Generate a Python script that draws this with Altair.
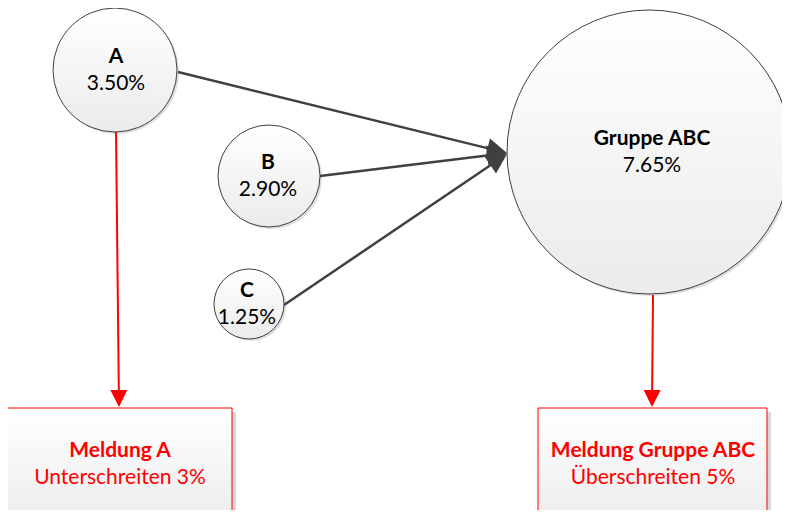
import altair as alt
import pandas as pd
import numpy as np

# ---- nodes (circles) ----
node_names = ["A", "B", "C", "Gruppe ABC"]
node_shares = ["3.50%", "2.90%", "1.25%", "7.65%"]
node_cx = [115, 269, 249, 649]
node_cy = [70, 176, 304, 152]
node_r = [62, 51, 35, 142]
label_x = [116, 268, 247, 652]

# ---- grey edges (members -> group) ----
edge_x1 = [178, 320, 284]
edge_y1 = [72, 176, 305]
edge_x2 = [507, 507, 507]
edge_y2 = [153, 153, 154]

# ---- alerts (red) ----
alert_titles = ["Meldung A", "Meldung Gruppe ABC"]
alert_texts = ["Unterschreiten 3%", "Überschreiten 5%"]
alert_x1 = [7, 538]
alert_x2 = [232, 767]
alert_y1 = [408, 408]
alert_y2 = [530, 530]
alert_cx = [120, 653]
alert_from_x = [116, 653]
alert_from_y = [131, 295]
alert_to_x = [119, 652]
alert_to_y = [407, 407]

W, H = 774, 502
xs = alt.Scale(domain=[8, 8 + W], nice=False, zero=False)
ys = alt.Scale(domain=[8, 8 + H], nice=False, zero=False, reverse=True)


def X(f):
    return alt.X(f, type="quantitative", scale=xs, axis=None)


def Y(f):
    return alt.Y(f, type="quantitative", scale=ys, axis=None)


FONT = "Lato"
FS = 21
ARROW = "M0,0L-1,-0.5L-1,0.5Z"

nodes = pd.DataFrame({
    "name": node_names, "share": node_shares,
    "cx": node_cx, "cy": node_cy, "r": node_r, "lx": label_x,
})
nodes["size"] = (2 * nodes["r"]) ** 2
nodes["sx"] = nodes["cx"] + 2
nodes["sy"] = nodes["cy"] + 2
nodes["ty"] = nodes["cy"] - 13
nodes["vy"] = nodes["cy"] + 14


def arrows(x1, y1, x2, y2, head):
    d = pd.DataFrame({"x1": x1, "y1": y1, "x2": x2, "y2": y2})
    dx = d["x2"] - d["x1"]
    dy = d["y2"] - d["y1"]
    ln = np.sqrt(dx ** 2 + dy ** 2)
    d["angle"] = np.degrees(np.arctan2(dy, dx)) % 360
    d["ex"] = d["x2"] - dx / ln * head * 0.6
    d["ey"] = d["y2"] - dy / ln * head * 0.6
    d["size"] = 4 * head ** 2
    return d


grey = arrows(edge_x1, edge_y1, edge_x2, edge_y2, 20)
red = arrows(alert_from_x, alert_from_y, alert_to_x, alert_to_y, 17)

alerts = pd.DataFrame({
    "title": alert_titles, "text": alert_texts,
    "x1": alert_x1, "x2": alert_x2, "y1": alert_y1, "y2": alert_y2,
    "cx": alert_cx,
})
alerts["sx1"] = alerts["x1"] + 4
alerts["sx2"] = alerts["x2"] + 4
alerts["sy1"] = alerts["y1"] + 4
alerts["sy2"] = alerts["y2"] + 4
alerts["ty"] = 451
alerts["vy"] = 478

grad = alt.Gradient(
    gradient="linear",
    stops=[alt.GradientStop(color="#ffffff", offset=0),
           alt.GradientStop(color="#ebebeb", offset=1)],
    x1=0, x2=0, y1=0, y2=1,
)

circle_shadow = alt.Chart(nodes).mark_point(
    shape="circle", filled=True, fill="#d6d6d6", stroke=None, opacity=0.8
).encode(x=X("sx"), y=Y("sy"), size=alt.Size("size:Q", scale=None))

circles = alt.Chart(nodes).mark_point(
    shape="circle", filled=True, fill=grad, stroke="#404040",
    strokeWidth=1, opacity=1
).encode(x=X("cx"), y=Y("cy"), size=alt.Size("size:Q", scale=None))

node_title = alt.Chart(nodes).mark_text(
    font=FONT, fontSize=FS, fontWeight="bold", color="#000000",
    align="center", baseline="middle"
).encode(x=X("lx"), y=Y("ty"), text="name:N")

node_value = alt.Chart(nodes).mark_text(
    font=FONT, fontSize=FS, color="#000000", align="center", baseline="middle"
).encode(x=X("lx"), y=Y("vy"), text="share:N")

grey_lines = alt.Chart(grey).mark_rule(
    color="#404040", strokeWidth=2.5
).encode(x=X("x1"), y=Y("y1"), x2=alt.X2("ex"), y2=alt.Y2("ey"))

grey_heads = alt.Chart(grey).mark_point(
    shape=ARROW, filled=True, fill="#404040", stroke=None, opacity=1
).encode(x=X("x2"), y=Y("y2"), size=alt.Size("size:Q", scale=None),
         angle=alt.Angle("angle:Q", scale=None))

red_lines = alt.Chart(red).mark_rule(
    color="#ff0000", strokeWidth=2
).encode(x=X("x1"), y=Y("y1"), x2=alt.X2("ex"), y2=alt.Y2("ey"))

red_heads = alt.Chart(red).mark_point(
    shape=ARROW, filled=True, fill="#ff0000", stroke=None, opacity=1
).encode(x=X("x2"), y=Y("y2"), size=alt.Size("size:Q", scale=None),
         angle=alt.Angle("angle:Q", scale=None))

box_shadow = alt.Chart(alerts).mark_rect(color="#d9d9d9").encode(
    x=X("sx1"), x2=alt.X2("sx2"), y=Y("sy1"), y2=alt.Y2("sy2"))

boxes = alt.Chart(alerts).mark_rect(
    fill=grad, stroke="#ff0000", strokeWidth=1
).encode(x=X("x1"), x2=alt.X2("x2"), y=Y("y1"), y2=alt.Y2("y2"))

box_title = alt.Chart(alerts).mark_text(
    font=FONT, fontSize=FS, fontWeight="bold", color="#ff0000",
    align="center", baseline="middle"
).encode(x=X("cx"), y=Y("ty"), text="title:N")

box_text = alt.Chart(alerts).mark_text(
    font=FONT, fontSize=FS, color="#ff0000", align="center", baseline="middle"
).encode(x=X("cx"), y=Y("vy"), text="text:N")

chart = alt.layer(
    circle_shadow, grey_lines, grey_heads, red_lines, red_heads, circles,
    node_title, node_value, box_shadow, boxes, box_title, box_text
).properties(
    width=W, height=H, padding=0, autosize=alt.AutoSizeParams(type="none"),
    background="#ffffff"
).configure_view(stroke=None)

chart.save("out.html", embed_options={"renderer": "svg", "actions": False})
